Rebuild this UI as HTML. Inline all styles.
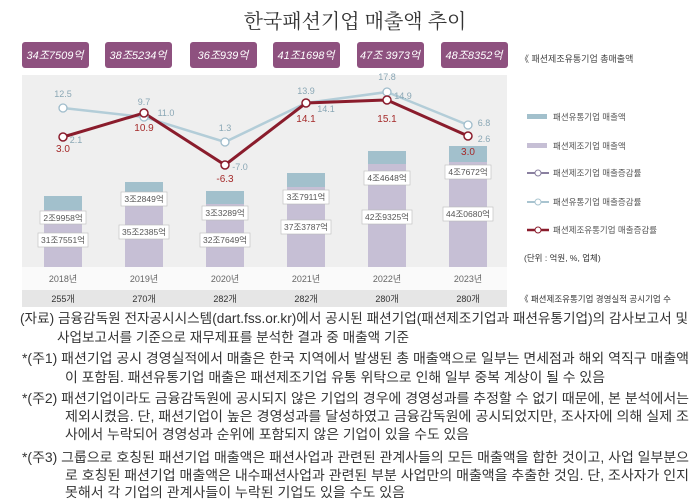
<!DOCTYPE html>
<html><head><meta charset="utf-8"><style>
body{margin:0;background:#fff}
svg{display:block;font-family:"Liberation Sans","Noto Sans CJK KR",sans-serif}
</style></head><body>
<svg width="700" height="502" viewBox="0 0 700 502">
<text x="355" y="28" font-size="20" text-anchor="middle" fill="#333" font-family="'Noto Serif CJK SC','Noto Sans CJK KR',serif">한국패션기업 매출액 추이</text>
<g fill="#8e517f">
<rect x="22" y="42" width="67" height="26" rx="3"/><rect x="105" y="42" width="67" height="26" rx="3"/><rect x="190" y="42" width="67" height="26" rx="3"/><rect x="273" y="42" width="67" height="26" rx="3"/><rect x="357" y="42" width="67" height="26" rx="3"/><rect x="441" y="42" width="67" height="26" rx="3"/>
</g>
<g fill="#fff" font-size="11" text-anchor="middle" font-style="italic">
<text x="55" y="59">34조7509억</text><text x="138" y="59">38조5234억</text><text x="223" y="59">36조939억</text><text x="306" y="59">41조1698억</text><text x="390" y="59">47조 3973억</text><text x="474" y="59">48조8352억</text>
</g>
<text x="520" y="62" font-size="9" fill="#444">《 패션제조유통기업 총매출액</text>
<rect x="22" y="75" width="485" height="192" fill="#efefef"/>
<rect x="22" y="267" width="485" height="23" fill="#fafafa"/>
<rect x="22" y="290" width="485" height="17" fill="#e6e6e6"/>
<g>
<rect x="44" y="196" width="38" height="71" fill="#c6bfd5"/><rect x="44" y="196" width="38" height="14" fill="#a2c0cc"/>
<rect x="125" y="182" width="38" height="85" fill="#c6bfd5"/><rect x="125" y="182" width="38" height="13" fill="#a2c0cc"/>
<rect x="206" y="191" width="38" height="76" fill="#c6bfd5"/><rect x="206" y="191" width="38" height="13" fill="#a2c0cc"/>
<rect x="287" y="173" width="38" height="94" fill="#c6bfd5"/><rect x="287" y="173" width="38" height="14" fill="#a2c0cc"/>
<rect x="368" y="151" width="38" height="116" fill="#c6bfd5"/><rect x="368" y="151" width="38" height="13" fill="#a2c0cc"/>
<rect x="449" y="146" width="38" height="121" fill="#c6bfd5"/><rect x="449" y="146" width="38" height="16" fill="#a2c0cc"/>
</g>
<g font-size="8.5" fill="#555" text-anchor="middle">
<g fill="#fff" stroke="#bbb" stroke-width="0.6">
<rect x="40" y="211" width="46" height="13"/><rect x="38" y="233" width="50" height="14"/>
<rect x="121" y="192" width="46" height="14"/><rect x="119" y="225" width="50" height="14"/>
<rect x="202" y="206" width="46" height="14"/><rect x="200" y="233" width="50" height="14"/>
<rect x="283" y="190" width="46" height="14"/><rect x="281" y="220" width="50" height="14"/>
<rect x="364" y="171" width="46" height="14"/><rect x="362" y="210" width="50" height="14"/>
<rect x="445" y="165" width="46" height="14"/><rect x="443" y="207" width="50" height="14"/>
</g>
<text x="63" y="221">2조9958억</text><text x="63" y="243">31조7551억</text>
<text x="144" y="202">3조2849억</text><text x="144" y="235">35조2385억</text>
<text x="225" y="216">3조3289억</text><text x="225" y="243">32조7649억</text>
<text x="306" y="200">3조7911억</text><text x="306" y="230">37조3787억</text>
<text x="387" y="181">4조4648억</text><text x="387" y="220">42조9325억</text>
<text x="468" y="175">4조7672억</text><text x="468" y="217">44조0680억</text>
</g>
<polyline points="63,108 144,117 225,142 306,103 387,92 468,125" fill="none" stroke="#b3cdd8" stroke-width="2.5"/>
<polyline points="63,137 144,113 225,165 306,103 387,100 468,136" fill="none" stroke="#8a1c2c" stroke-width="3"/>
<g fill="#fff" stroke="#9fbccb" stroke-width="1.3">
<circle cx="63" cy="108" r="4"/><circle cx="144" cy="117" r="4"/><circle cx="225" cy="142" r="4"/><circle cx="306" cy="103" r="4"/><circle cx="387" cy="92" r="4"/><circle cx="468" cy="125" r="4"/>
</g>
<g fill="#fff" stroke="#8a1c2c" stroke-width="1.5">
<circle cx="63" cy="137" r="4"/><circle cx="144" cy="113" r="4"/><circle cx="225" cy="165" r="4"/><circle cx="306" cy="103" r="4"/><circle cx="387" cy="100" r="4"/><circle cx="468" cy="136" r="4"/>
</g>
<g font-size="9" fill="#8aa7b5" text-anchor="middle">
<text x="63" y="97">12.5</text><text x="144" y="105">9.7</text><text x="166" y="116">11.0</text><text x="225" y="131">1.3</text><text x="240" y="170">-7.0</text>
<text x="306" y="94">13.9</text><text x="326" y="112">14.1</text><text x="387" y="80">17.8</text><text x="403" y="99">14.9</text><text x="484" y="126">6.8</text><text x="484" y="142">2.6</text><text x="76" y="143">2.1</text>
</g>
<g font-size="10" fill="#a52a2a" text-anchor="middle">
<text x="63" y="152">3.0</text><text x="144" y="131">10.9</text><text x="225" y="182">-6.3</text><text x="306" y="122">14.1</text><text x="387" y="122">15.1</text><text x="468" y="155">3.0</text>
</g>
<g font-size="9" fill="#666" text-anchor="middle">
<text x="63" y="282">2018년</text><text x="144" y="282">2019년</text><text x="225" y="282">2020년</text><text x="306" y="282">2021년</text><text x="387" y="282">2022년</text><text x="468" y="282">2023년</text>
</g>
<g font-size="9" fill="#333" text-anchor="middle">
<text x="63" y="302">255개</text><text x="144" y="302">270개</text><text x="225" y="302">282개</text><text x="306" y="302">282개</text><text x="387" y="302">280개</text><text x="468" y="302">280개</text>
</g>
<rect x="527" y="114" width="20" height="5" fill="#a2c0cc"/>
<rect x="527" y="143" width="20" height="5" fill="#c6bfd5"/>
<line x1="527" y1="173" x2="549" y2="173" stroke="#8a80a0" stroke-width="2"/><circle cx="538" cy="173" r="3" fill="#fff" stroke="#8a80a0"/>
<line x1="527" y1="202" x2="549" y2="202" stroke="#a9c4d0" stroke-width="2"/><circle cx="538" cy="202" r="3" fill="#fff" stroke="#a9c4d0"/>
<line x1="527" y1="230" x2="549" y2="230" stroke="#8a1c2c" stroke-width="2.5"/><circle cx="538" cy="230" r="3" fill="#fff" stroke="#8a1c2c"/>
<g font-size="8.5" fill="#555">
<text x="553" y="120">패션유통기업 매출액</text><text x="553" y="149">패션제조기업 매출액</text><text x="553" y="176">패션제조기업 매출증감률</text><text x="553" y="205">패션유통기업 매출증감률</text><text x="553" y="233">패션제조유통기업 매출증감률</text>
<text x="524" y="261" fill="#333">(단위 : 억원, %, 업체)</text>
<text x="520" y="302" fill="#333">《 패션제조유통기업 경영실적 공시기업 수</text>
</g>
<g font-size="13.5" fill="#333">
<text x="20" y="323" textLength="668" lengthAdjust="spacingAndGlyphs">(자료) 금융감독원 전자공시시스템(dart.fss.or.kr)에서 공시된 패션기업(패션제조기업과 패션유통기업)의 감사보고서 및</text>
<text x="57" y="342" textLength="352" lengthAdjust="spacingAndGlyphs">사업보고서를 기준으로 재무제표를 분석한 결과 중 매출액 기준</text>
<text x="22" y="363" textLength="667" lengthAdjust="spacingAndGlyphs">*(주1) 패션기업 공시 경영실적에서 매출은 한국 지역에서 발생된 총 매출액으로 일부는 면세점과 해외 역직구 매출액</text>
<text x="65" y="382" textLength="540" lengthAdjust="spacingAndGlyphs">이 포함됨. 패션유통기업 매출은 패션제조기업 유통 위탁으로 인해 일부 중복 계상이 될 수 있음</text>
<text x="22" y="403" textLength="667" lengthAdjust="spacingAndGlyphs">*(주2) 패션기업이라도 금융감독원에 공시되지 않은 기업의 경우에 경영성과를 추정할 수 없기 때문에, 본 분석에서는</text>
<text x="65" y="421" textLength="624" lengthAdjust="spacingAndGlyphs">제외시켰음. 단, 패션기업이 높은 경영성과를 달성하였고 금융감독원에 공시되었지만, 조사자에 의해 실제 조</text>
<text x="65" y="439" textLength="404" lengthAdjust="spacingAndGlyphs">사에서 누락되어 경영성과 순위에 포함되지 않은 기업이 있을 수도 있음</text>
<text x="22" y="462" textLength="667" lengthAdjust="spacingAndGlyphs">*(주3) 그룹으로 호칭된 패션기업 매출액은 패션사업과 관련된 관계사들의 모든 매출액을 합한 것이고, 사업 일부분으</text>
<text x="65" y="480" textLength="624" lengthAdjust="spacingAndGlyphs">로 호칭된 패션기업 매출액은 내수패션사업과 관련된 부분 사업만의 매출액을 추출한 것임. 단, 조사자가 인지</text>
<text x="65" y="497" textLength="340" lengthAdjust="spacingAndGlyphs">못해서 각 기업의 관계사들이 누락된 기업도 있을 수도 있음</text>
</g>
</svg>
</body></html>
